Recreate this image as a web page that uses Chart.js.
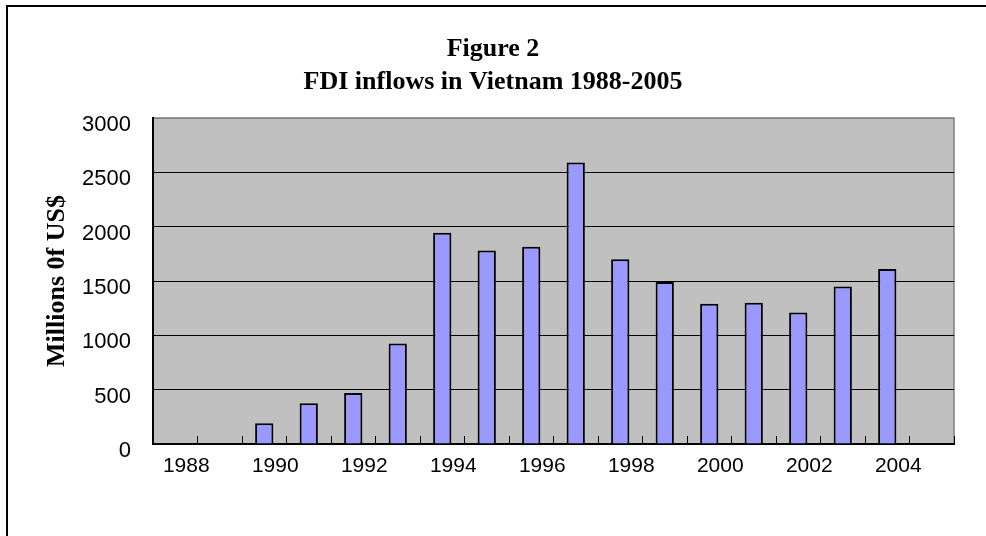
<!DOCTYPE html>
<html>
<head>
<meta charset="utf-8">
<script src="https://cdn.jsdelivr.net/npm/chart.js@4/dist/chart.umd.min.js"></script>
<style>
  html, body { margin: 0; padding: 0; background: #ffffff; overflow: hidden; }
  #wrap { position: relative; width: 986px; height: 536px; overflow: hidden; }
  #frame { position: absolute; left: 6px; top: 5px; width: 1200px; height: 800px;
           border: 2px solid #000; box-sizing: border-box; }
  #c { position: absolute; left: 0; top: 0; }
</style>
</head>
<body>
<div id="wrap">
  <div id="frame"></div>
  <canvas id="c" width="986" height="536"></canvas>
</div>
<script>
// ---- data ----
const years = ['1988','1989','1990','1991','1992','1993','1994','1995','1996',
               '1997','1998','1999','2000','2001','2002','2003','2004','2005'];
const fdiInflows = [null, null, 190, 375, 470, 925, 1945, 1780, 1815,
                    2590, 1700, 1490, 1290, 1300, 1210, 1450, 1610, null];
const yAxisMin = 0;
const yAxisMax = 3000;
const yAxisStep = 500;
const chartTitle = ['Figure 2', 'FDI inflows in Vietnam 1988-2005'];
const yAxisTitle = 'Millions 0f US$';

// ---- plot area background plugin ----
const plotArea = {
  id: 'plotArea',
  beforeDraw(chart) {
    const { ctx, chartArea: a } = chart;
    ctx.save();
    ctx.fillStyle = '#c0c0c0';
    ctx.fillRect(a.left, a.top, a.right - a.left, a.bottom - a.top);
    ctx.strokeStyle = '#808080';
    ctx.lineWidth = 1.5;
    ctx.beginPath();
    ctx.moveTo(a.left, a.top);
    ctx.lineTo(a.right, a.top);
    ctx.lineTo(a.right, a.bottom);
    ctx.stroke();
    ctx.restore();
  }
};

new Chart(document.getElementById('c'), {
  type: 'bar',
  data: {
    labels: years,
    datasets: [{
      data: fdiInflows,
      backgroundColor: '#9999ff',
      borderColor: '#000000',
      borderWidth: 2,
      categoryPercentage: 1.0,
      barPercentage: 0.41
    }]
  },
  options: {
    responsive: false,
    animation: false,
    devicePixelRatio: 1,
    layout: { padding: { left: 32, right: 32, top: 0, bottom: 0 } },
    plugins: {
      legend: { display: false },
      tooltip: { enabled: false },
      title: {
        display: true,
        text: chartTitle,
        color: '#000000',
        font: { family: '"Liberation Serif", "Times New Roman", serif', size: 26, weight: 'bold', lineHeight: 1.27 },
        padding: { top: 32.5, bottom: 19.5 }
      }
    },
    scales: {
      x: {
        type: 'category',
        offset: true,
        grid: {
          offset: true,
          drawOnChartArea: false,
          drawTicks: true,
          tickLength: -8,
          color: '#000000',
          lineWidth: 1
        },
        border: { display: true, color: '#000000', width: 2 },
        ticks: {
          autoSkip: false,
          maxRotation: 0,
          minRotation: 0,
          color: '#000000',
          font: { family: '"Liberation Sans", Arial, sans-serif', size: 21 },
          padding: 18,
          labelOffset: 11,
          callback: function(value, index) { return index % 2 === 0 ? years[index] : ''; }
        },
        afterFit(scale) { scale.height = 92; }
      },
      y: {
        min: yAxisMin,
        max: yAxisMax,
        grid: {
          drawTicks: false,
          color: (ctx) => (ctx.tick && ctx.tick.value === ctx.scale.max) ? '#808080' : '#000000',
          lineWidth: 1
        },
        border: { display: true, color: '#000000', width: 2 },
        ticks: {
          stepSize: yAxisStep,
          color: '#000000',
          font: { family: '"Liberation Sans", Arial, sans-serif', size: 22 },
          padding: 22,
          labelOffset: 7,
          callback: (value) => String(value)
        },
        title: {
          display: true,
          text: yAxisTitle,
          color: '#000000',
          font: { family: '"Liberation Serif", "Times New Roman", serif', size: 26, weight: 'bold' },
          padding: { top: 10, bottom: 0 }
        },
        afterFit(scale) { scale.width = 121; }
      }
    }
  },
  plugins: [plotArea]
});
</script>
</body>
</html>
